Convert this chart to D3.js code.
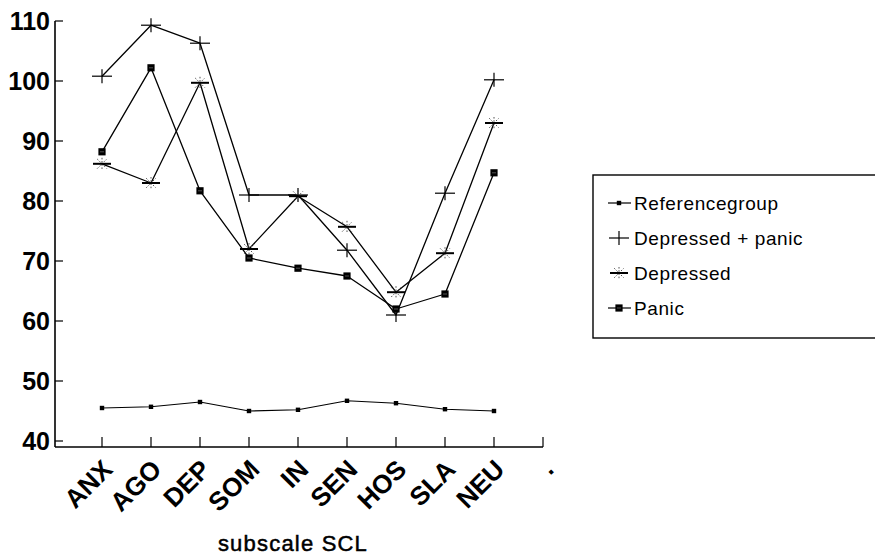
<!DOCTYPE html>
<html>
<head>
<meta charset="utf-8">
<script src="https://cdn.jsdelivr.net/npm/d3@7/dist/d3.min.js"></script>
<style>
  html, body { margin: 0; padding: 0; background: #fff; }
  svg { display: block; font-family: "Liberation Sans", Arial, Helvetica, sans-serif; }
</style>
</head>
<body>
<svg id="chart" width="875" height="555"></svg>
<script>
// SCL subscale profiles per patient group
const categories = ["ANX", "AGO", "DEP", "SOM", "IN", "SEN", "HOS", "SLA", "NEU", "."];
const referencegroup = [45.5, 45.7, 46.5, 45.0, 45.2, 46.7, 46.3, 45.3, 45.0];
const depressedPanic = [100.8, 109.3, 106.3, 81.0, 81.0, 71.8, 61.0, 81.3, 100.2];
const depressed = [86.2, 83.0, 99.7, 72.0, 80.8, 75.7, 64.8, 71.3, 93.0];
const panic = [88.2, 102.2, 81.7, 70.5, 68.8, 67.5, 62.0, 64.5, 84.7];
const yTicks = [40, 50, 60, 70, 80, 90, 100, 110];
const seriesNames = ["Referencegroup", "Depressed + panic", "Depressed", "Panic"];

const svg = d3.select("#chart");

const x = d3.scalePoint().domain(categories).range([102, 543]);
const y = d3.scaleLinear().domain([40, 110]).range([441, 21]);
const axisY = 447;   // baseline of the category axis
const axisX = 55;    // position of the value axis

// value axis
const gy = svg.append("g").attr("transform", `translate(${axisX},0)`);
gy.append("line").attr("x1", 0).attr("x2", 0).attr("y1", y(110)).attr("y2", axisY)
  .attr("stroke", "#000").attr("stroke-width", 1.6);
gy.selectAll("line.tick").data(yTicks).join("line").attr("class", "tick")
  .attr("x1", 0).attr("x2", 8).attr("y1", d => y(d)).attr("y2", d => y(d))
  .attr("stroke", "#000").attr("stroke-width", 1.2);
gy.selectAll("text").data(yTicks).join("text")
  .attr("x", -5).attr("y", d => y(d)).attr("dy", "0.36em")
  .attr("text-anchor", "end").attr("font-size", 25).attr("font-weight", "bold")
  .text(d => d);

// category axis
const gx = svg.append("g");
gx.append("line").attr("x1", axisX).attr("x2", x(categories[categories.length - 1]))
  .attr("y1", axisY).attr("y2", axisY).attr("stroke", "#000").attr("stroke-width", 1.6);
gx.selectAll("line.tick").data(categories).join("line").attr("class", "tick")
  .attr("x1", d => x(d)).attr("x2", d => x(d)).attr("y1", axisY).attr("y2", axisY - 10)
  .attr("stroke", "#000").attr("stroke-width", 1.2);
gx.selectAll("text").data(categories).join("text")
  .attr("transform", d => `translate(${x(d) + 12},${axisY + 24}) rotate(-45)`)
  .attr("text-anchor", "end").attr("font-size", 26).attr("font-weight", "bold")
  .text(d => d);

svg.append("text").attr("x", 293).attr("y", 551).attr("text-anchor", "middle")
  .attr("font-size", 22).attr("letter-spacing", 1.2)
  .attr("stroke", "#000").attr("stroke-width", 0.5).text("subscale SCL");

// marker drawers
function markRef(g, cx, cy) {
  g.append("rect").attr("x", cx - 2.2).attr("y", cy - 2.2).attr("width", 4.4).attr("height", 4.4).attr("fill", "#000");
}
function markCross(g, cx, cy) {
  g.append("line").attr("x1", cx - 10).attr("x2", cx + 10).attr("y1", cy).attr("y2", cy).attr("stroke", "#000").attr("stroke-width", 1.2);
  g.append("line").attr("x1", cx).attr("x2", cx).attr("y1", cy - 7).attr("y2", cy + 7).attr("stroke", "#000").attr("stroke-width", 1.2);
}
function markStar(g, cx, cy) {
  const r = 6;
  [[0, -r, 0, r], [-r * 0.8, -r * 0.8, r * 0.8, r * 0.8], [-r * 0.8, r * 0.8, r * 0.8, -r * 0.8]].forEach(s => {
    g.append("line").attr("x1", cx + s[0]).attr("y1", cy + s[1]).attr("x2", cx + s[2]).attr("y2", cy + s[3])
      .attr("stroke", "#555").attr("stroke-width", 1).attr("stroke-dasharray", "1.6,1.6");
  });
  g.append("line").attr("x1", cx - 9).attr("x2", cx + 9).attr("y1", cy).attr("y2", cy).attr("stroke", "#000").attr("stroke-width", 2);
}
function markSquare(g, cx, cy) {
  g.append("rect").attr("x", cx - 3.6).attr("y", cy - 3.6).attr("width", 7.2).attr("height", 7.2).attr("fill", "#000");
  g.append("line").attr("x1", cx - 2).attr("x2", cx + 2).attr("y1", cy).attr("y2", cy).attr("stroke", "#666").attr("stroke-width", 0.8);
}

const series = [
  { name: seriesNames[0], values: referencegroup, mark: markRef, width: 1.1 },
  { name: seriesNames[1], values: depressedPanic, mark: markCross, width: 1.3 },
  { name: seriesNames[2], values: depressed, mark: markStar, width: 1.3 },
  { name: seriesNames[3], values: panic, mark: markSquare, width: 1.3 }
];

const line = d3.line().x((d, i) => x(categories[i])).y(d => y(d));
const plot = svg.append("g");
series.forEach(s => {
  plot.append("path").datum(s.values).attr("d", line)
    .attr("fill", "none").attr("stroke", "#000").attr("stroke-width", s.width).attr("stroke-linejoin", "round");
});
series.forEach(s => {
  const g = plot.append("g");
  s.values.forEach((v, i) => s.mark(g, x(categories[i]), y(v)));
});

// legend
const legend = svg.append("g");
legend.append("rect").attr("x", 593).attr("y", 175).attr("width", 300).attr("height", 163)
  .attr("fill", "none").attr("stroke", "#000").attr("stroke-width", 1.4);
const legendY = d3.scalePoint().domain(seriesNames).range([203, 308]);
series.forEach(s => {
  const ly = legendY(s.name);
  const g = legend.append("g");
  if (s.mark !== markCross && s.mark !== markStar) {
    g.append("line").attr("x1", 608).attr("x2", 631).attr("y1", ly).attr("y2", ly).attr("stroke", "#000").attr("stroke-width", 1.2);
  }
  s.mark(g, 619, ly);
  g.append("text").attr("x", 634).attr("y", ly).attr("dy", "0.36em")
    .attr("font-size", 19).attr("letter-spacing", 0.6).text(s.name);
});
</script>
</body>
</html>
